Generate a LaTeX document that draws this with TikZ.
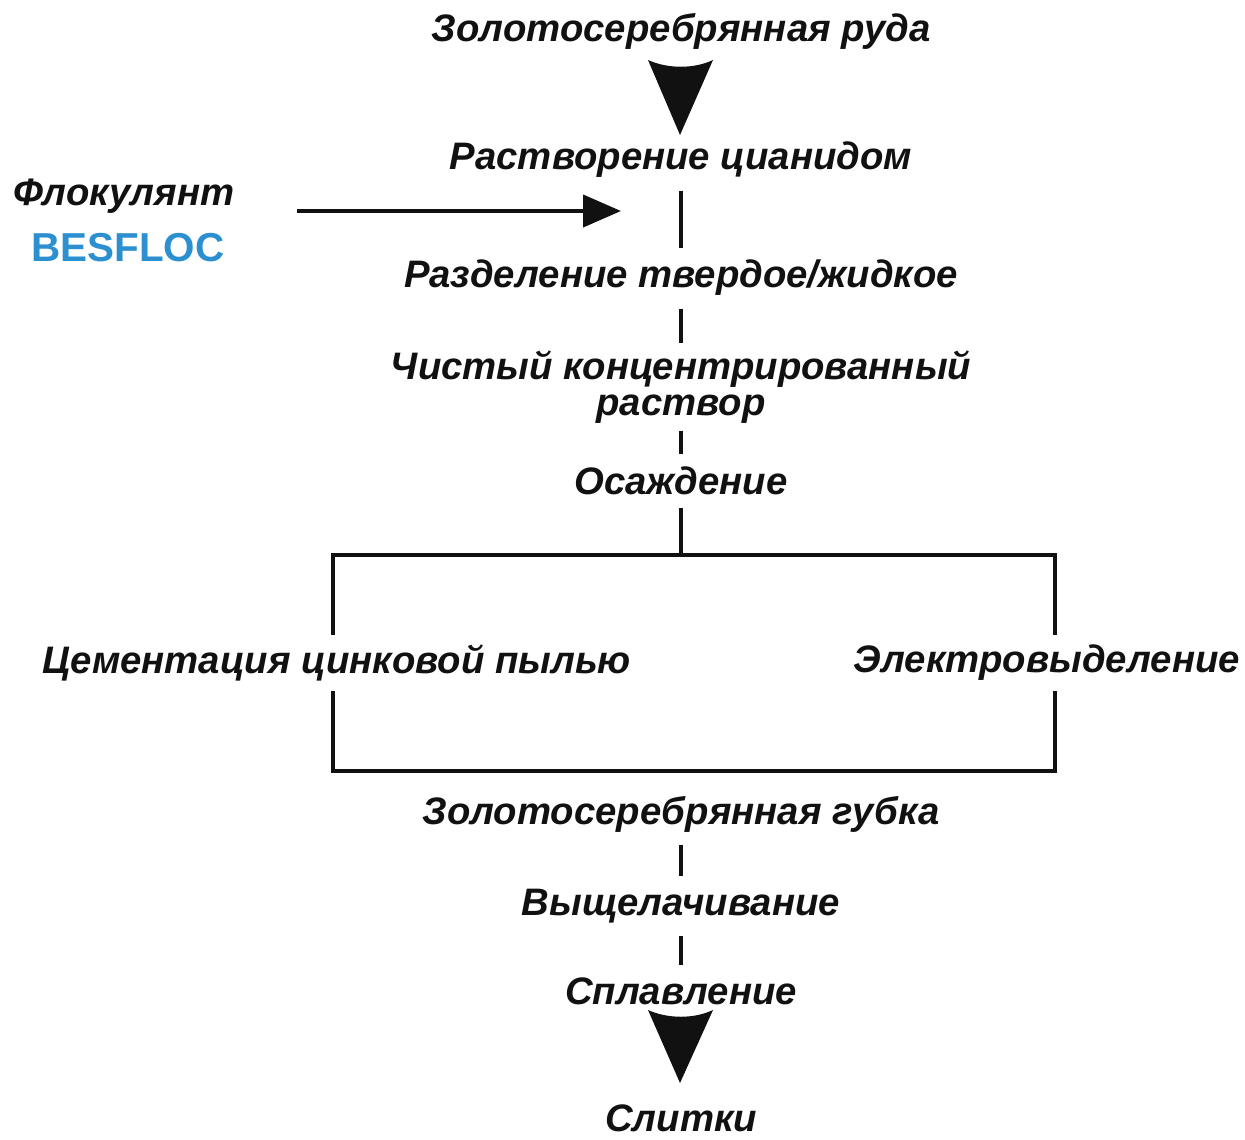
\documentclass[tikz,border=0pt]{standalone}
\usepackage{fontspec}
\setmainfont{Liberation Sans}
\usetikzlibrary{arrows.meta,calc}
\definecolor{besblue}{HTML}{2B8FD0}
\definecolor{ink}{HTML}{111111}
\tikzset{
  lbl/.style={font=\fontsize{21.8}{19}\selectfont\bfseries\itshape, text=ink, inner sep=7pt, align=center},
  flow/.style={draw=ink, line width=2.4pt},
  boxline/.style={draw=ink, line width=2.7pt, line join=miter, line cap=rect},
}
\begin{document}
\begin{tikzpicture}[x=0.02cm,y=-0.02cm]
\useasboundingbox (0,0) rectangle (1245,1140);
\node[lbl] (ore) at (681,31) {Золотосеребрянная руда};
\node[lbl] (diss) at (681,160) {Растворение цианидом};
\node[lbl] (floc) at (124,196) {Флокулянт};
\node[font=\fontsize{23}{23}\selectfont\bfseries, text=besblue, inner sep=4pt] (bes) at (128,248) {BESFLOC};
\node[lbl] (sep) at (681,278) {Разделение твердое/жидкое};
\node[lbl, inner sep=4pt, font=\fontsize{21.8}{20.5}\selectfont\bfseries\itshape] (clean) at (681,387) {Чистый концентрированный\\раствор};
\node[lbl] (prec) at (681,481) {Осаждение};
\node[lbl] (cem) at (337,663) {Цементация цинковой пылью};
\node[lbl] (elec) at (1047,663) {Электровыделение};
\node[lbl] (sponge) at (681,814) {Золотосеребрянная губка};
\node[lbl] (leach) at (681,906) {Выщелачивание};
\node[lbl] (smelt) at (681,991) {Сплавление};
\node[lbl] (ingot) at (681,1118) {Слитки};
% box corners
\coordinate (tee) at (681,555);
\coordinate (tl) at (333,555);
\coordinate (tr) at (1055,555);
\coordinate (bl) at (333,771);
\coordinate (br) at (1055,771);
% top triangle arrow between ore and diss
\fill[ink] (648,60) .. controls (668,69) and (694,69) .. (713,60) -- (680,135) -- cycle;
% flocculant arrow
\coordinate (fs) at (297,211);
\coordinate (fe) at (621,211);
\draw[flow, -{Triangle[length=0.76cm,width=0.64cm]}] (fs) -- (fe);
% vertical chain
\draw[flow] (diss) -- (sep);
\draw[flow] (sep) -- (clean);
\draw[flow] (clean) -- (prec);
\draw[flow] (prec) -- (tee);
\draw[boxline] (cem.north -| tl) -- (tl) -- (tr) -- (elec.north -| tr);
\draw[boxline] (cem.south -| bl) -- (bl) -- (br) -- (elec.south -| br);
\draw[flow] (sponge) -- (leach);
\draw[flow] (leach) -- (smelt);
% bottom triangle arrow
\fill[ink] (648,1010) .. controls (668,1019) and (694,1019) .. (713,1010) -- (680,1083) -- cycle;
\end{tikzpicture}
\end{document}
